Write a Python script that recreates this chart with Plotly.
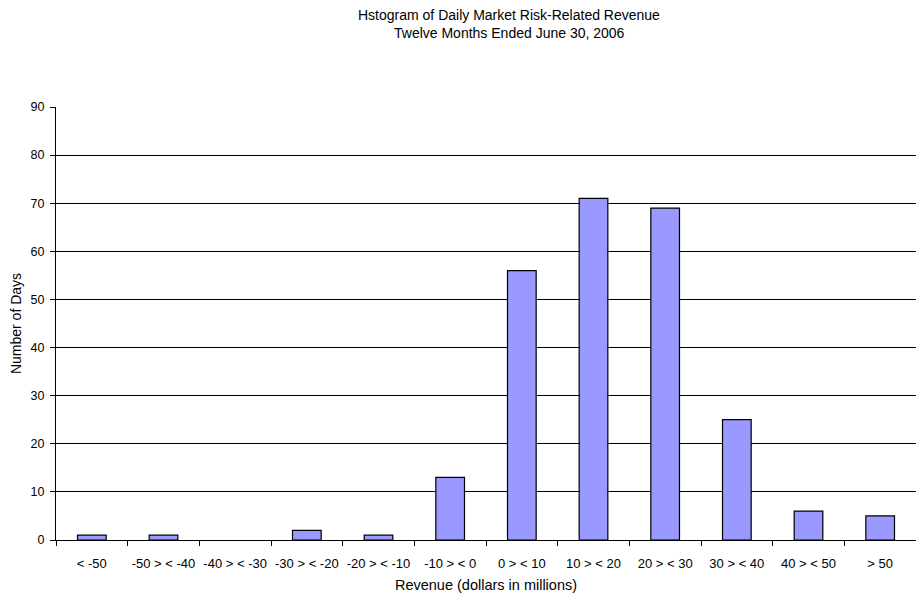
import plotly.graph_objects as go

# Revenue buckets (dollars in millions) and number of trading days in each
categories = ["< -50", "-50 > < -40", "-40 > < -30", "-30 > < -20", "-20 > < -10",
              "-10 > < 0", "0 > < 10", "10 > < 20", "20 > < 30", "30 > < 40",
              "40 > < 50", "> 50"]
days = [1, 1, 0, 2, 1, 13, 56, 71, 69, 25, 6, 5]
y_ticks = [0, 10, 20, 30, 40, 50, 60, 70, 80, 90]
title_lines = ["Hstogram of Daily Market Risk-Related Revenue",
               "Twelve Months Ended June 30, 2006"]

font_family = "Liberation Sans, Arial, sans-serif"

# empty buckets get no outline so nothing is drawn for them
outline_widths = [1.2 if d > 0 else 0 for d in days]

fig = go.Figure(
    go.Bar(
        x=categories,
        y=days,
        marker=dict(color="#9999FF", line=dict(color="#000000", width=outline_widths)),
        hoverinfo="x+y",
    )
)

# two centred title lines placed above the plot area
title_annotations = [
    dict(text=line, x=0.527, y=yy, xref="paper", yref="paper",
         xanchor="center", yanchor="middle", showarrow=False,
         font=dict(family=font_family, size=14, color="#000000"))
    for line, yy in zip(title_lines, [1.2125, 1.171])
]

fig.update_layout(
    width=916,
    height=597,
    paper_bgcolor="white",
    plot_bgcolor="white",
    margin=dict(l=56, r=0, t=107, b=57),
    bargap=0.6,
    showlegend=False,
    font=dict(family=font_family, size=12, color="#000000"),
    annotations=title_annotations,
)

fig.update_xaxes(
    type="category",
    automargin=False,
    tickangle=0,
    showline=True,
    linecolor="#000000",
    linewidth=1.3,
    ticks="outside",
    tickson="boundaries",
    ticklen=5,
    tickcolor="#000000",
    ticklabelstandoff=11,
    showgrid=False,
    tickfont=dict(size=13),
    title=dict(text="Revenue (dollars in millions)", standoff=10, font=dict(size=14.5)),
)

fig.update_yaxes(
    automargin=False,
    range=[0, 90],
    tickvals=y_ticks,
    showline=True,
    linecolor="#000000",
    linewidth=1.3,
    ticks="outside",
    ticklen=5,
    tickcolor="#000000",
    ticklabelstandoff=3,
    showgrid=True,
    gridcolor="#000000",
    gridwidth=1,
    zeroline=False,
    tickfont=dict(size=12.5),
    title=dict(text="Number of Days", standoff=5, font=dict(size=14)),
)

fig.write_html("out.html")
